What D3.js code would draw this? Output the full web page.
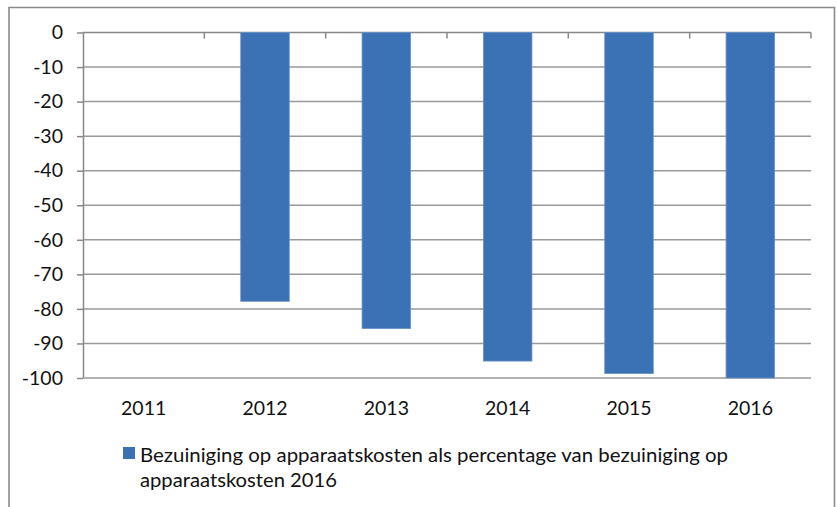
<!DOCTYPE html>
<html><head><meta charset="utf-8">
<script src="https://cdn.jsdelivr.net/npm/d3@7"></script>
<style>body{margin:0;background:#fff}svg{display:block}text{font-family:Lato,"Open Sans",sans-serif;fill:#111}</style>
</head><body><svg id="c" width="837" height="507"></svg>
<script>
const categories = ["2011","2012","2013","2014","2015","2016"];
const values = [0, -77.8, -85.7, -95.1, -98.7, -100];
const yTicks = [0,-10,-20,-30,-40,-50,-60,-70,-80,-90,-100];
const seriesName = "Bezuiniging op apparaatskosten als percentage van bezuiniging op";
const seriesName2 = "apparaatskosten 2016";

const svg = d3.select("#c");
svg.append("path").attr("d","M9,510 L9,7.5 L834.5,7.5 L834.5,510")
  .attr("fill","none").attr("stroke","#8a8a8a").attr("stroke-width",1.6);

const L=83, R=811, T=32.5, B=378;
const x = d3.scaleBand().domain(categories).range([L,R]).paddingInner(0.6).paddingOuter(0.3);
const xb = d3.scaleBand().domain(categories).range([L,R]);
const y = d3.scaleLinear().domain([-100,0]).range([B,T]);
const FS = "19.5px";

svg.append("g").selectAll("line").data(yTicks.filter(d=>d!==0 && d!==-100)).join("line")
  .attr("x1",L).attr("x2",R).attr("y1",d=>y(d)).attr("y2",d=>y(d))
  .attr("stroke","#9a9a9a").attr("stroke-width",1.5);

const ya = svg.append("g").attr("transform",`translate(${L},0)`)
  .call(d3.axisLeft(y).tickValues(yTicks).tickSize(6).tickSizeOuter(0).tickPadding(14).tickFormat(d=>String(d)));
ya.select(".domain").attr("stroke","#888").attr("stroke-width",1.5);
ya.selectAll(".tick line").attr("stroke","#888").attr("stroke-width",1.5);
ya.selectAll("text").style("font-size",FS).attr("fill","#111");

svg.append("line").attr("x1",L).attr("x2",R).attr("y1",y(-100)).attr("y2",y(-100))
  .attr("stroke","#9a9a9a").attr("stroke-width",1.5);

const xa = svg.append("g").attr("transform",`translate(0,${y(0)})`);
xa.append("line").attr("x1",L).attr("x2",R).attr("stroke","#888").attr("stroke-width",1.5);
xa.selectAll(".bt").data(categories).join("line").attr("class","bt")
  .attr("x1",d=>xb(d)+xb.bandwidth()).attr("x2",d=>xb(d)+xb.bandwidth())
  .attr("y1",0).attr("y2",6).attr("stroke","#888").attr("stroke-width",1.5);

svg.append("g").selectAll("rect").data(values.map((v,i)=>({c:categories[i],v}))).join("rect")
  .attr("x",d=>x(d.c)).attr("width",x.bandwidth())
  .attr("y",d=>y(0)).attr("height",d=>y(d.v)-y(0))
  .attr("fill","#3B71B5").attr("stroke","#6a93c9").attr("stroke-width",0.8);

svg.append("g").selectAll("text").data(categories).join("text")
  .attr("x",d=>xb(d)+xb.bandwidth()/2).attr("y",415)
  .attr("text-anchor","middle").style("font-size",FS).text(d=>d);

const lg = svg.append("g");
lg.append("rect").attr("x",123).attr("y",447).attr("width",12).attr("height",12).attr("fill","#3B71B5");
lg.append("text").attr("x",140).attr("y",462).style("font-size",FS).attr("textLength",588).attr("lengthAdjust","spacingAndGlyphs").text(seriesName);
lg.append("text").attr("x",140).attr("y",487).style("font-size",FS).attr("textLength",197).attr("lengthAdjust","spacingAndGlyphs").text(seriesName2);
</script></body></html>
